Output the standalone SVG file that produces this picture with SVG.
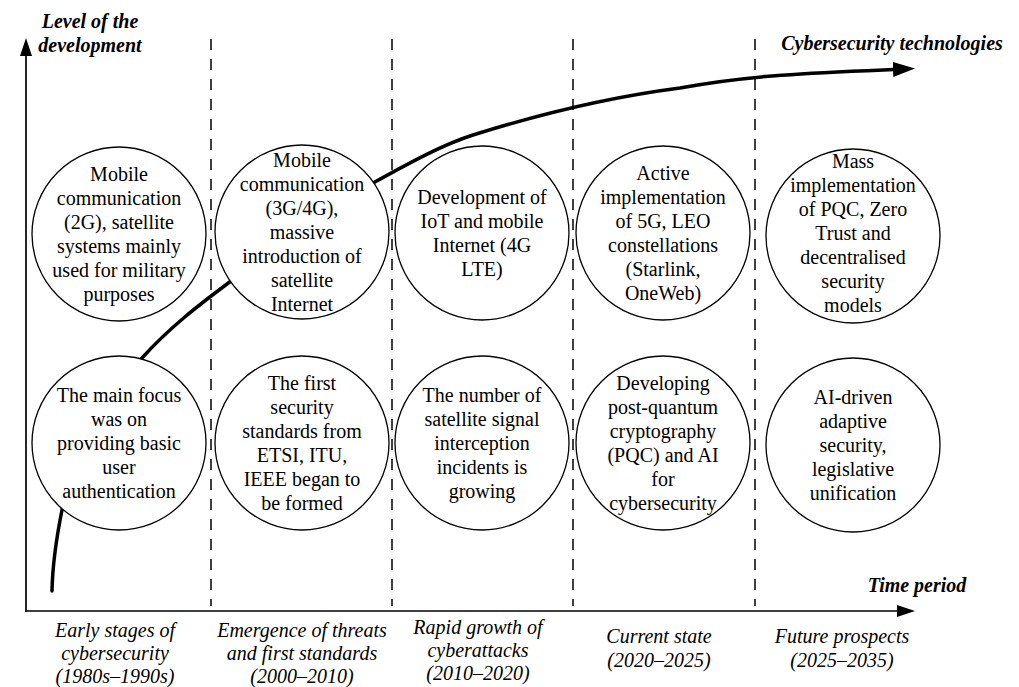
<svg xmlns="http://www.w3.org/2000/svg" width="1019" height="687" viewBox="0 0 1019 687">
  <style>
    .axis { stroke: #000; stroke-width: 1.7; fill: none; }
    .divider { stroke: #000; stroke-width: 1.5; stroke-dasharray: 11 9; fill: none; }
    .trend { stroke: #000; stroke-width: 3.5; fill: none; stroke-linecap: round; }
    .bubble { fill: #fff; stroke: #000; stroke-width: 1.3; }
    .caption { font-size: 20px; text-anchor: middle; fill: #000; }
    .axis-label { font-size: 20px; font-weight: bold; font-style: italic; fill: #000; text-anchor: middle; }
    .period { font-size: 20px; font-style: italic; fill: #000; text-anchor: middle; }
  </style>
  <defs>
    <marker id="axis-head" viewBox="0 0 18 12" markerWidth="18" markerHeight="12" refX="0" refY="6" orient="auto" markerUnits="userSpaceOnUse">
      <path d="M0,0 L18,6 L0,12 Z" fill="#000"/>
    </marker>
    <marker id="trend-head" viewBox="0 0 22 15" markerWidth="22" markerHeight="15" refX="0" refY="7.5" orient="auto" markerUnits="userSpaceOnUse">
      <path d="M0,0 L22,7.5 L0,15 Z" fill="#000"/>
    </marker>
  </defs>

  <rect width="1019" height="687" fill="#fff"/>

  <!-- period dividers -->
  <g id="dividers">
    <line class="divider" x1="211" y1="39" x2="211" y2="606"/>
    <line class="divider" x1="392" y1="39" x2="392" y2="606"/>
    <line class="divider" x1="573" y1="39" x2="573" y2="606"/>
    <line class="divider" x1="755" y1="39" x2="755" y2="606"/>
  </g>

  <!-- axes -->
  <g id="axes">
    <line class="axis" x1="26" y1="611.8" x2="26" y2="56" marker-end="url(#axis-head)"/>
    <line class="axis" x1="25.2" y1="611" x2="897" y2="611" marker-end="url(#axis-head)"/>
  </g>

  <!-- development trend curve -->
  <g id="connectors">
    <path class="trend" marker-end="url(#trend-head)"
          d="M52,591 C52.5,565 58,530 62,510 C74,450 102,402 142,358 C170,327 199,305 227,284 C277,246.5 323,210.5 373,183 C411.5,161.8 443,144.5 473,135 C540,114 610,97 680,88 C750,74.7 823,72.3 893,69.5"/>
  </g>

  <g font-family="Liberation Serif, Tinos, DejaVu Serif, serif">
    <!-- upper row -->
    <g id="node-2g">
      <circle class="bubble" cx="119" cy="234" r="87"/>
      <text class="caption" x="119" y="180.5">Mobile<tspan x="119" dy="24">communication</tspan><tspan x="119" dy="24">(2G), satellite</tspan><tspan x="119" dy="24">systems mainly</tspan><tspan x="119" dy="24">used for military</tspan><tspan x="119" dy="24">purposes</tspan></text>
    </g>
    <g id="node-3g4g">
      <circle class="bubble" cx="302" cy="232" r="87"/>
      <text class="caption" x="302" y="166.5">Mobile<tspan x="302" dy="24">communication</tspan><tspan x="302" dy="24">(3G/4G),</tspan><tspan x="302" dy="24">massive</tspan><tspan x="302" dy="24">introduction of</tspan><tspan x="302" dy="24">satellite</tspan><tspan x="302" dy="24">Internet</tspan></text>
    </g>
    <g id="node-iot">
      <circle class="bubble" cx="482" cy="233" r="87"/>
      <text class="caption" x="482" y="203.5">Development of<tspan x="482" dy="24">IoT and mobile</tspan><tspan x="482" dy="24">Internet (4G</tspan><tspan x="482" dy="24">LTE)</tspan></text>
    </g>
    <g id="node-5g">
      <circle class="bubble" cx="663" cy="233" r="87"/>
      <text class="caption" x="663" y="179.5">Active<tspan x="663" dy="24">implementation</tspan><tspan x="663" dy="24">of 5G, LEO</tspan><tspan x="663" dy="24">constellations</tspan><tspan x="663" dy="24">(Starlink,</tspan><tspan x="663" dy="24">OneWeb)</tspan></text>
    </g>
    <g id="node-pqc-mass">
      <circle class="bubble" cx="853" cy="236" r="87"/>
      <text class="caption" x="853" y="168">Mass<tspan x="853" dy="24">implementation</tspan><tspan x="853" dy="24">of PQC, Zero</tspan><tspan x="853" dy="24">Trust and</tspan><tspan x="853" dy="24">decentralised</tspan><tspan x="853" dy="24">security</tspan><tspan x="853" dy="24">models</tspan></text>
    </g>

    <!-- lower row -->
    <g id="node-auth">
      <circle class="bubble" cx="119" cy="443" r="87"/>
      <text class="caption" x="119" y="401.5">The main focus<tspan x="119" dy="24">was on</tspan><tspan x="119" dy="24">providing basic</tspan><tspan x="119" dy="24">user</tspan><tspan x="119" dy="24">authentication</tspan></text>
    </g>
    <g id="node-standards">
      <circle class="bubble" cx="302" cy="443" r="87"/>
      <text class="caption" x="302" y="389.5">The first<tspan x="302" dy="24">security</tspan><tspan x="302" dy="24">standards from</tspan><tspan x="302" dy="24">ETSI, ITU,</tspan><tspan x="302" dy="24">IEEE began to</tspan><tspan x="302" dy="24">be formed</tspan></text>
    </g>
    <g id="node-interception">
      <circle class="bubble" cx="482" cy="443" r="87"/>
      <text class="caption" x="482" y="401.5">The number of<tspan x="482" dy="24">satellite signal</tspan><tspan x="482" dy="24">interception</tspan><tspan x="482" dy="24">incidents is</tspan><tspan x="482" dy="24">growing</tspan></text>
    </g>
    <g id="node-pqc-ai">
      <circle class="bubble" cx="663" cy="443" r="87"/>
      <text class="caption" x="663" y="389.5">Developing<tspan x="663" dy="24">post-quantum</tspan><tspan x="663" dy="24">cryptography</tspan><tspan x="663" dy="24">(PQC) and AI</tspan><tspan x="663" dy="24">for</tspan><tspan x="663" dy="24">cybersecurity</tspan></text>
    </g>
    <g id="node-ai-adaptive">
      <circle class="bubble" cx="853" cy="445" r="87"/>
      <text class="caption" x="853" y="403.5">AI-driven<tspan x="853" dy="24">adaptive</tspan><tspan x="853" dy="24">security,</tspan><tspan x="853" dy="24">legislative</tspan><tspan x="853" dy="24">unification</tspan></text>
    </g>

    <!-- axis captions -->
    <g id="axis-labels">
      <text class="axis-label" x="90" y="28">Level of the<tspan x="90" dy="23.5">development</tspan></text>
      <text class="axis-label" x="892" y="50">Cybersecurity technologies</text>
      <text class="axis-label" x="917" y="592">Time period</text>
    </g>

    <!-- period captions -->
    <g id="period-labels">
      <text class="period" x="115" y="637">Early stages of<tspan x="115" dy="23">cybersecurity</tspan><tspan x="115" dy="23">(1980s–1990s)</tspan></text>
      <text class="period" x="302" y="637">Emergence of threats<tspan x="302" dy="23">and first standards</tspan><tspan x="302" dy="23">(2000–2010)</tspan></text>
      <text class="period" x="478" y="634">Rapid growth of<tspan x="478" dy="23">cyberattacks</tspan><tspan x="478" dy="23">(2010–2020)</tspan></text>
      <text class="period" x="659" y="643">Current state<tspan x="659" dy="24">(2020–2025)</tspan></text>
      <text class="period" x="842" y="643">Future prospects<tspan x="842" dy="24">(2025–2035)</tspan></text>
    </g>
  </g>
</svg>
